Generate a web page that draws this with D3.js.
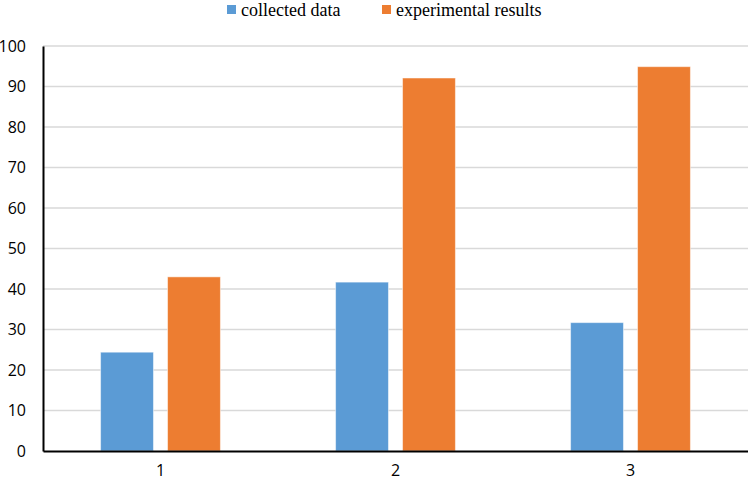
<!DOCTYPE html>
<html>
<head>
<meta charset="utf-8">
<script src="https://cdn.jsdelivr.net/npm/d3@7"></script>
<style>
  body { margin: 0; background: #fff; }
  .tick text { font-family: "Open Sans", "Liberation Sans", sans-serif; font-size: 16px; fill: #000; }
  .legend text { font-family: "Liberation Serif", "DejaVu Serif", serif; font-size: 18px; fill: #000; }
</style>
</head>
<body>
<svg id="chartsvg" width="748" height="481"></svg>
<script>
var vis = d3.select("#chartsvg");
const categories = ["1", "2", "3"];
const seriesNames = ["collected data", "experimental results"];
const collectedData = [24.4, 41.7, 31.7];
const experimentalResults = [43.0, 92.1, 94.9];
const yTicks = [0, 10, 20, 30, 40, 50, 60, 70, 80, 90, 100];
const colors = ["#5B9BD5", "#ED7D31"];

const margin = { left: 43, right: 0, top: 46, bottom: 30 };
const width = 748, height = 481;
const plotBottom = height - margin.bottom;

var xScale = d3.scaleBand()
    .domain(categories)
    .range([margin.left, width - margin.right])
    .paddingInner(0.49)
    .paddingOuter(0.245);

var subScale = d3.scaleBand()
    .domain(seriesNames)
    .range([0, xScale.bandwidth()])
    .paddingInner(0.21);

var yScale = d3.scaleLinear().domain([0, 100]).range([plotBottom, margin.top]);
var colorScale = d3.scaleOrdinal().domain(seriesNames).range(colors);

// gridlines
vis.append("g").selectAll("line").data(yTicks.filter(d => d > 0))
    .enter().append("line")
    .attr("x1", margin.left).attr("x2", width - margin.right)
    .attr("y1", d => yScale(d)).attr("y2", d => yScale(d))
    .attr("stroke", "#d9d9d9").attr("stroke-width", 1.5);

var rows = categories.map((c, i) => ({ cat: c, values: [collectedData[i], experimentalResults[i]] }));

vis.append("g").selectAll("g").data(rows)
    .enter().append("g")
    .attr("transform", d => `translate(${xScale(d.cat)},0)`)
    .selectAll("rect").data(d => d.values.map((v, k) => ({ key: seriesNames[k], value: v })))
    .enter().append("rect")
    .attr("x", d => subScale(d.key))
    .attr("y", d => yScale(d.value))
    .attr("width", subScale.bandwidth())
    .attr("height", d => plotBottom - yScale(d.value))
    .attr("fill", d => colorScale(d.key))
    .attr("stroke", "#fff").attr("stroke-opacity", 0.5).attr("stroke-width", 1);

// y axis
var yAxis = vis.append("g")
    .attr("transform", `translate(${margin.left},0)`)
    .call(d3.axisLeft(yScale).tickValues(yTicks).tickSize(0).tickPadding(17));
yAxis.select(".domain").attr("stroke", "#000").attr("stroke-width", 2);

// x axis
var xAxis = vis.append("g")
    .attr("transform", `translate(0,${plotBottom})`)
    .call(d3.axisBottom(xScale).tickSize(0).tickPadding(12));
xAxis.select(".domain").attr("stroke", "#000").attr("stroke-width", 2);
xAxis.selectAll(".tick text").attr("dy", "0.8em");

// legend
var legend = vis.append("g").attr("class", "legend");
var legendX = [227, 382];
seriesNames.forEach((s, i) => {
    legend.append("rect")
        .attr("x", legendX[i]).attr("y", 5)
        .attr("width", 9).attr("height", 9)
        .attr("fill", colorScale(s));
    legend.append("text")
        .attr("x", legendX[i] + 14).attr("y", 16)
        .text(s);
});
</script>
</body>
</html>
